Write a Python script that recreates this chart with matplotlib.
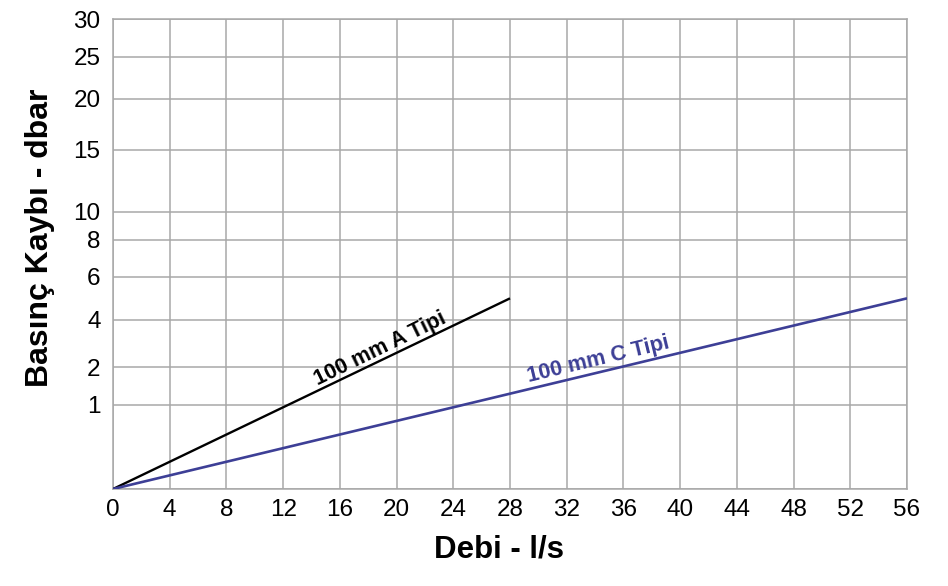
import numpy as np
import matplotlib
matplotlib.use("Agg")
import matplotlib.pyplot as plt

plt.rcParams["font.family"] = ["Liberation Sans", "DejaVu Sans"]

# Data: pressure loss (dbar) vs flow (l/s)
a_flow = [0, 28]
a_loss = [0, 5]
c_flow = [0, 56]
c_loss = [0, 5]

x_ticks = list(range(0, 57, 4))
y_ticks = [0, 1, 2, 4, 6, 8, 10, 15, 20, 25, 30]
y_labels = ["", "1", "2", "4", "6", "8", "10", "15", "20", "25", "30"]

# non-linear y scale as printed on the chart (fraction of axis height)
scale_vals = [0, 1, 2, 4, 6, 8, 10, 15, 20, 25, 30]
scale_frac = np.array([0, 84.3, 121.7, 169, 212.3, 249, 277.3, 339.3, 390.3, 432.3, 470]) / 470


def fwd(v):
    return np.interp(v, scale_vals, scale_frac)


def inv(h):
    return np.interp(h, scale_frac, scale_vals)


fig = plt.figure(figsize=(9.48, 5.86), dpi=100)
ax = fig.add_axes([113 / 948, 97 / 586, 794 / 948, 470 / 586])
ax.set_yscale("function", functions=(fwd, inv))

grid_col = "#a8a8a8"
blue = "#3d3f96"

ax.plot(a_flow, a_loss, color="black", lw=1.7, solid_capstyle="butt", zorder=3)
ax.plot(c_flow, c_loss, color=blue, lw=1.9, solid_capstyle="butt", zorder=3)

ax.set_xlim(0, 56)
ax.set_ylim(0, 30)
ax.set_xticks(x_ticks)
ax.set_yticks(y_ticks)
ax.set_yticklabels(y_labels)
ax.minorticks_off()
ax.tick_params(length=0, labelsize=17.5, colors="black")
ax.tick_params(axis="x", pad=7)
ax.tick_params(axis="y", pad=9)
ax.grid(True, color=grid_col, lw=1.1)
for s in ax.spines.values():
    s.set_color(grid_col)
    s.set_linewidth(1.1)

ax.set_xlabel("Debi - l/s", fontsize=22.5, fontweight="bold")
ax.xaxis.set_label_coords(0.486, -0.128)
ax.xaxis.label.set_va("center")
ax.set_ylabel("Basınç Kaybı - dbar", fontsize=23, fontweight="bold")
ax.yaxis.set_label_coords(-0.092, 0.534)
ax.yaxis.label.set_va("center")

ax.annotate("100 mm A Tipi", xy=(19, 2.34), xytext=(0, 4), textcoords="offset points",
            rotation=26, rotation_mode="anchor", ha="center", va="baseline",
            fontsize=15.5, fontweight="bold", color="black")
ax.annotate("100 mm C Tipi", xy=(34.3, 1.9), xytext=(0, 4), textcoords="offset points",
            rotation=13.6, rotation_mode="anchor", ha="center", va="baseline",
            fontsize=15.5, fontweight="bold", color=blue)

fig.savefig("out.png", dpi=100, facecolor="white")
